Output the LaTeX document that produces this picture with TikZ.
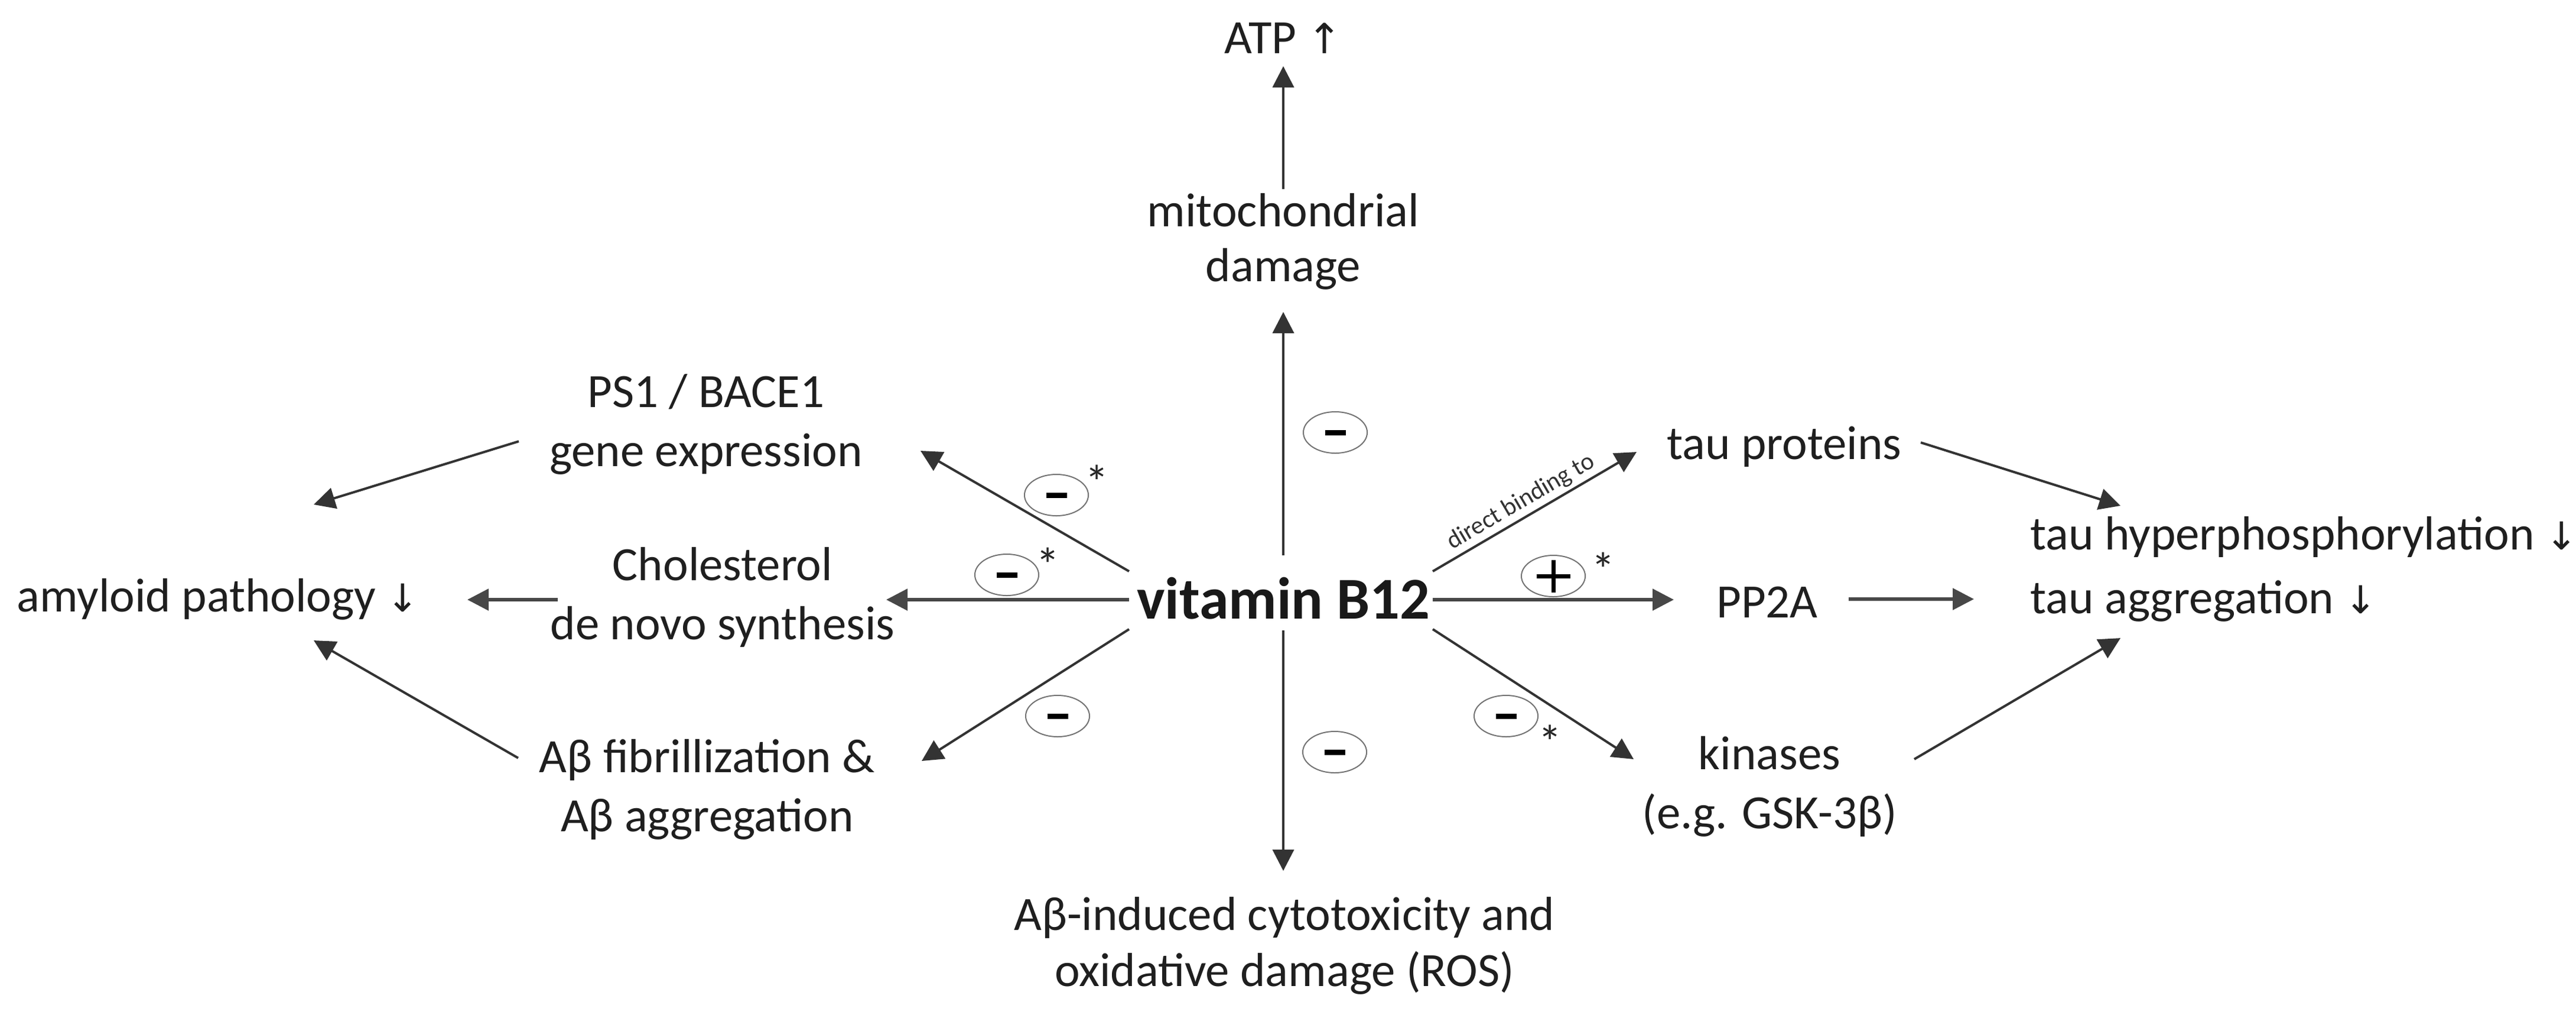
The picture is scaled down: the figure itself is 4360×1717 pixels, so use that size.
\documentclass[tikz,border=0pt]{standalone}
\usepackage{fontspec}
\setmainfont{Carlito}
\newfontfamily\arrowfont{DejaVu Sans}
\usetikzlibrary{arrows.meta,shapes.geometric}
\newcommand{\myDown}{{\arrowfont\fontsize{18.5}{18.5}\selectfont ↓}}
\newcommand{\myUp}{{\arrowfont\fontsize{20}{20}\selectfont ↑}}
\newcommand{\twol}[3][0pt]{\begin{tabular}[t]{@{}c@{}}#2\\[#1]#3\end{tabular}}
\begin{document}
\begin{tikzpicture}[x=0.01cm,y=-0.01cm,
  txt/.style={font=\fontsize{23}{28.5}\selectfont, text=black!88, inner sep=0pt},
  bigtxt/.style={font=\fontsize{28.5}{30}\selectfont\bfseries, text=black!90, inner sep=0pt},
  arr/.style={-{Triangle[length=0.36cm,width=0.36cm]}, line width=0.04cm, draw=black!80},
  harr/.style={arr, line width=0.055cm, draw=black!72},
  sign/.style={ellipse, draw=black!55, line width=0.02cm, minimum width=1.08cm, minimum height=0.70cm, inner sep=0pt},
  star/.style={font=\fontsize{23}{28.5}\selectfont, text=black!85, inner sep=0pt, anchor=north},
  small/.style={font=\fontsize{12}{13}\selectfont, text=black!80, inner sep=1.5pt}]

\useasboundingbox (0,0) rectangle (4360,1717);

% ---------- text nodes ----------
\node[txt, anchor=base] (atp) at (2172,90) {ATP \myUp};
\node[txt, anchor=base] (mito) at (2172,383) {\twol[-0.07cm]{mitochondrial}{damage}};
\node[bigtxt, anchor=base] (vit) at (2172,1047) {vitamin B12};
\node[txt, anchor=base] (ps1) at (1195,689) {\twol{PS1 / BACE1}{gene expression}};
\node[txt, anchor=base] (chol) at (1223,982) {\twol{Cholesterol}{de novo synthesis}};
\node[txt, anchor=base] (abf) at (1197,1307) {\twol{Aβ fibrillization \&}{Aβ aggregation}};
\node[txt, anchor=base west] (amy) at (28,1035) {amyloid pathology \myDown};
\node[txt, anchor=base] (ros) at (2174,1574) {\twol[-0.05cm]{Aβ-induced cytotoxicity and}{oxidative damage (ROS)}};
\node[txt, anchor=base] (tau) at (3020,777) {tau proteins};
\node[txt, anchor=base] (pp2a) at (2991,1045) {PP2A};
\node[txt, anchor=base] (kin) at (2995,1302) {\twol{kinases}{(e.g. GSK-3β)}};
\node[txt, anchor=base west] (tauout) at (3436,930)
  {\begin{tabular}[t]{@{}l@{}}tau hyperphosphorylation \myDown\\[0.08cm]tau aggregation \myDown\end{tabular}};

% ---------- connector end points ----------
\coordinate (vN) at (2172,940);
\coordinate (vS) at (2172,1067);
\coordinate (vW) at (1911,1015);
\coordinate (vE) at (2425,1015);
\coordinate (vNW) at (1911,967);
\coordinate (vSW) at (1911,1065);
\coordinate (vNE) at (2425,967);
\coordinate (vSE) at (2425,1065);
\coordinate (tMito) at (2172,528);
\coordinate (mitoTop) at (2172,320);
\coordinate (tATP) at (2172,112);
\coordinate (tPS1) at (1558,763);
\coordinate (tChol) at (1500,1015);
\coordinate (tAbf) at (1560,1288);
\coordinate (tRos) at (2172,1474);
\coordinate (tTau) at (2770,765);
\coordinate (tPP2A) at (2833,1015);
\coordinate (tKin) at (2765,1285);
\coordinate (ps1L) at (878,747);
\coordinate (amyA) at (531,854);
\coordinate (cholL) at (944,1015);
\coordinate (amyB) at (791,1015);
\coordinate (abfL) at (877,1283);
\coordinate (amyC) at (531,1084);
\coordinate (tauR) at (3251,749);
\coordinate (outA) at (3589,856);
\coordinate (pp2aR) at (3129,1014);
\coordinate (outB) at (3341,1014);
\coordinate (kinR) at (3240,1285);
\coordinate (outC) at (3589,1080);

% ---------- connectors ----------
\draw[arr] (mitoTop) -- (tATP);
\draw[arr] (vN) -- (tMito);
\draw[arr] (vS) -- (tRos);
\draw[arr] (vNW) -- (tPS1);
\draw[harr] (vW) -- (tChol);
\draw[arr] (vSW) -- (tAbf);
\draw[arr] (vNE) -- node[small, sloped, above, pos=0.47] (dbt) {direct binding to} (tTau);
\draw[harr] (vE) -- (tPP2A);
\draw[arr] (vSE) -- (tKin);
\draw[arr] (ps1L) -- (amyA);
\draw[harr] (cholL) -- (amyB);
\draw[arr] (abfL) -- (amyC);
\draw[arr] (tauR) -- (outA);
\draw[harr] (pp2aR) -- (outB);
\draw[arr] (kinR) -- (outC);

% ---------- signs ----------
\node[sign] (s1) at (2260,732) {\raisebox{-0.045cm}[0pt][0pt]{\rule{0.35cm}{0.09cm}}};
\node[sign] (s2) at (1788,838) {\raisebox{-0.045cm}[0pt][0pt]{\rule{0.35cm}{0.09cm}}};
\node[sign] (s3) at (1704,973) {\raisebox{-0.045cm}[0pt][0pt]{\rule{0.35cm}{0.09cm}}};
\node[sign] (s4) at (1790,1212) {\raisebox{-0.045cm}[0pt][0pt]{\rule{0.35cm}{0.09cm}}};
\node[sign] (s5) at (2259,1273) {\raisebox{-0.045cm}[0pt][0pt]{\rule{0.35cm}{0.09cm}}};
\node[sign] (s6) at (2549,1212) {\raisebox{-0.045cm}[0pt][0pt]{\rule{0.35cm}{0.09cm}}};
\node[sign] (p1) at (2629,975) {\raisebox{-0.275cm}[0pt][0pt]{\makebox[0.57cm][c]{\rule{0.07cm}{0.55cm}}\llap{\rule[0.24cm]{0.57cm}{0.07cm}}}};

% ---------- asterisks ----------
\node[star] (a2) at (1857,786) {*};
\node[star] (a3) at (1774,926) {*};
\node[star] (ap) at (2714,934) {*};
\node[star] (a6) at (2624,1226) {*};
\end{tikzpicture}
\end{document}
